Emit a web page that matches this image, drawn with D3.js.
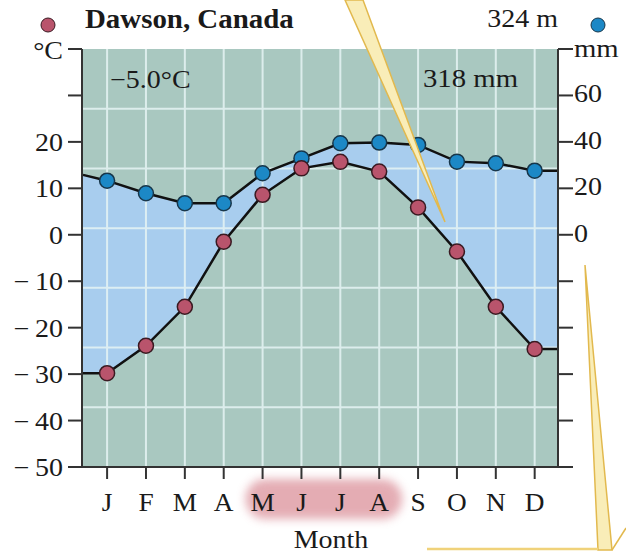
<!DOCTYPE html>
<html><head><meta charset="utf-8">
<script src="https://cdn.jsdelivr.net/npm/d3@7"></script>
<style>body{margin:0;background:#fff}svg{display:block}text{font-family:"Liberation Serif","DejaVu Serif",serif;fill:#1a1a1a}</style>
</head><body><svg id="c" width="626" height="554"></svg>
<script>
const months = ["J","F","M","A","M","J","J","A","S","O","N","D"];
const temperature = [-29.8,-23.9,-15.5,-1.5,8.6,14.3,15.7,13.6,5.9,-3.6,-15.5,-24.6];
const precipitation = [23.3,17.9,13.6,13.6,26.5,32.9,39.4,39.7,38.7,31.5,30.8,27.6];
const tempEdges = [-29.8,-24.6];
const precipEdges = [25.8,27.6];
const tempTicks = [-50,-40,-30,-20,-10,0,10,20,30,40];
const tempLabels = [-50,-40,-30,-20,-10,0,10,20];
const precipTicks = [-100,-80,-60,-40,-20,0,20,40,60,80];
const precipLabels = [0,20,40,60];
const station = "Dawson, Canada", elevation = "324 m", meanTemp = "\u22125.0\u00B0C", totalPrecip = "318 mm";
const humidMonths = [4,7];

const svg = d3.select("#c");
const L=83,R=558,T=49,B=467;
const x = d3.scaleLinear().domain([-0.62,11.6]).range([L,R]);
const yT = d3.scaleLinear().domain([-50,40]).range([B,T]);
const yP = d3.scaleLinear().domain([-100,80]).range([B,T]);
const idx = d3.range(12);

function txt(sel, xx, yy, s, opts={}){
  const t = sel.append("text").attr("transform",`translate(${xx},${yy}) scale(${opts.sx||1.12},1)`)
    .attr("font-size",opts.fs||25).attr("text-anchor",opts.anchor||"start").text(s);
  if(opts.bold) t.attr("font-weight","bold");
  return t;
}

const defs = svg.append("defs");
defs.append("filter").attr("id","blur").attr("x","-30%").attr("y","-60%").attr("width","160%").attr("height","220%")
  .append("feGaussianBlur").attr("stdDeviation",5);
defs.append("clipPath").attr("id","plot").append("rect").attr("x",L).attr("y",T).attr("width",R-L).attr("height",B-T);

svg.append("rect").attr("x",L).attr("y",T).attr("width",R-L).attr("height",B-T).attr("fill","#a9c8c0");

const tPts = [[x.domain()[0],tempEdges[0]],...idx.map(i=>[i,temperature[i]]),[x.domain()[1],tempEdges[1]]];
const pPts = [[x.domain()[0],precipEdges[0]],...idx.map(i=>[i,precipitation[i]]),[x.domain()[1],precipEdges[1]]];
svg.append("path").attr("clip-path","url(#plot)")
  .attr("d", d3.area().x(d=>x(d[0])).y0((d,i)=>yT(tPts[i][1])).y1(d=>yP(d[1]))(pPts))
  .attr("fill","#a8cdee");

const g = svg.append("g").attr("stroke","#e6f4f4").attr("stroke-width",2).attr("opacity",0.85);
g.selectAll("line.v").data(idx).join("line").attr("x1",i=>x(i)).attr("x2",i=>x(i)).attr("y1",T).attr("y2",B);
g.selectAll("line.h").data(d3.range(1,7)).join("line").attr("x1",L).attr("x2",R)
  .attr("y1",k=>T+k*(B-T)/7).attr("y2",k=>T+k*(B-T)/7);

svg.append("path").attr("d",d3.line().x(d=>x(d[0])).y(d=>yP(d[1]))(pPts)).attr("fill","none").attr("stroke","#111").attr("stroke-width",2.5);
svg.append("path").attr("d",d3.line().x(d=>x(d[0])).y(d=>yT(d[1]))(tPts)).attr("fill","none").attr("stroke","#111").attr("stroke-width",2.5);

svg.append("g").selectAll("circle").data(idx).join("circle").attr("cx",i=>x(i)).attr("cy",i=>yP(precipitation[i])).attr("r",7.5)
  .attr("fill","#1c88c6").attr("stroke","#17364a").attr("stroke-width",1.5);
svg.append("g").selectAll("circle").data(idx).join("circle").attr("cx",i=>x(i)).attr("cy",i=>yT(temperature[i])).attr("r",7.5)
  .attr("fill","#b9546c").attr("stroke","#3a1a22").attr("stroke-width",1.5);

// highlight behind month labels
svg.append("rect").attr("x",x(humidMonths[0])-17).attr("y",479).attr("width",x(humidMonths[1])-x(humidMonths[0])+40).attr("height",40)
  .attr("rx",20).attr("fill","#d98a94").attr("opacity",0.7).attr("filter","url(#blur)");

const ax = svg.append("g").attr("stroke","#333").attr("stroke-width",2).attr("fill","none");
ax.append("line").attr("x1",L-1).attr("x2",L-1).attr("y1",T).attr("y2",B);
ax.append("line").attr("x1",R).attr("x2",R).attr("y1",T).attr("y2",B);
ax.append("line").attr("x1",68).attr("x2",573).attr("y1",B).attr("y2",B);
ax.selectAll("line.lt").data(tempTicks).join("line").attr("x1",68).attr("x2",L-1).attr("y1",d=>yT(d)).attr("y2",d=>yT(d));
ax.selectAll("line.rt").data(precipTicks).join("line").attr("x1",R).attr("x2",573).attr("y1",d=>yP(d)).attr("y2",d=>yP(d));
ax.selectAll("line.mt").data(idx).join("line").attr("x1",i=>x(i)).attr("x2",i=>x(i)).attr("y1",B).attr("y2",B+12);

const lab = svg.append("g");
tempLabels.forEach(d=>txt(lab,63,yT(d)+9,d<0?"\u2212\u2009"+Math.abs(d):String(d),{anchor:"end"}));
precipLabels.forEach(d=>txt(lab,574,yP(d)+7,String(d)));
txt(lab,574,57,"mm",{sx:1.15});
txt(lab,63,59,"\u00B0C",{anchor:"end"});

idx.forEach(i=>txt(lab,x(i),511,months[i],{anchor:"middle",fs:26,sx:1.05}));
txt(lab,331,548,"Month",{anchor:"middle",fs:25,sx:1.12});

svg.append("circle").attr("cx",48).attr("cy",25).attr("r",7).attr("fill","#b9546c").attr("stroke","#3a1a22").attr("stroke-width",1);
svg.append("circle").attr("cx",598).attr("cy",25).attr("r",7).attr("fill","#1c88c6").attr("stroke","#17364a").attr("stroke-width",1);
txt(lab,85,28,station,{fs:27,bold:true,sx:1.07});
txt(lab,558,27,elevation,{anchor:"end"});
txt(lab,110,88,meanTemp);
txt(lab,518,87,totalPrecip,{sx:1.15,anchor:"end"});

const deco = svg.append("g").attr("stroke","#e2b94e").attr("stroke-width",1.5).attr("fill","#f9edb8");
deco.append("path").attr("d","M345,0 L363,0 L445,222 Z");
deco.append("path").attr("d","M585,265 L598,550 L612,550 Z");
deco.append("path").attr("fill","none").attr("d","M612,550 L626,528");
deco.append("path").attr("fill","none").attr("stroke","#f0d27a").attr("stroke-width",2.5).attr("d","M427,549 L598,549");
</script></body></html>
